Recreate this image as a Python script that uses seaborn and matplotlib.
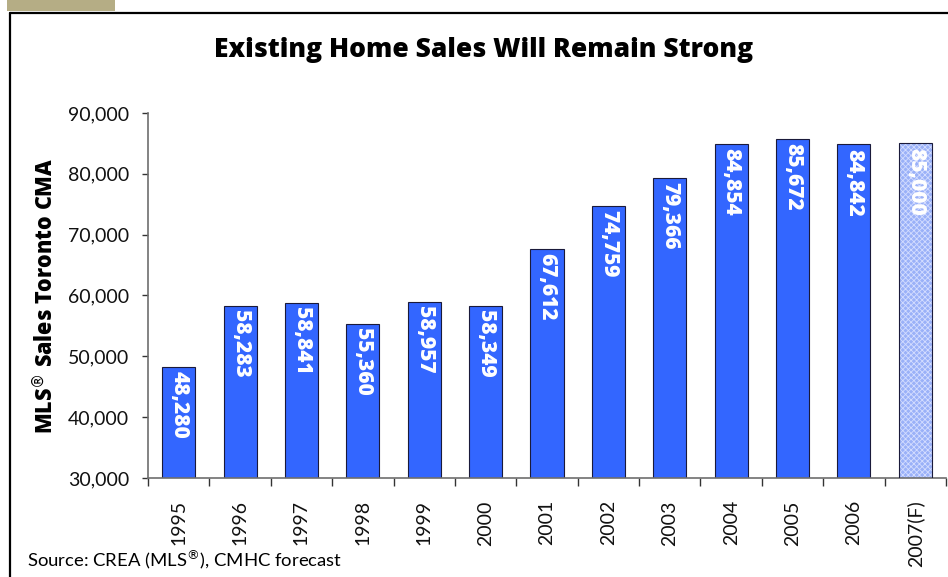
import matplotlib
matplotlib.use("Agg")
import matplotlib.pyplot as plt
import seaborn as sns
import pandas as pd
from matplotlib.patches import Rectangle
from matplotlib.lines import Line2D
from matplotlib.ticker import FuncFormatter, FixedLocator

# Toronto CMA MLS sales by year
years = ["1995", "1996", "1997", "1998", "1999", "2000", "2001",
         "2002", "2003", "2004", "2005", "2006", "2007(F)"]
sales = [48280, 58283, 58841, 55360, 58957, 58349, 67612,
         74759, 79366, 84854, 85672, 84842, 85000]
y_ticks = [30000, 40000, 50000, 60000, 70000, 80000, 90000]

sns.set_theme(style="white")
plt.rcParams["font.family"] = ["Lato", "DejaVu Sans"]
plt.rcParams["mathtext.fontset"] = "dejavusans"
plt.rcParams["hatch.linewidth"] = 0.6

BOLD = ["Open Sans", "DejaVu Sans"]
EDGE = "#1a1a3a"

df = pd.DataFrame({"year": years, "sales": sales})

fig = plt.figure(figsize=(9.48, 5.77), dpi=100)
ax = fig.add_axes([148 / 948, 1 - 478 / 577, (946 - 148) / 948, (478 - 113) / 577])

sns.barplot(data=df, x="year", y="sales", color="#3366FF", saturation=1,
            width=0.54, edgecolor=EDGE, linewidth=0.8, ax=ax)

# forecast bar: light dotted fill with its own outline
last = ax.patches[-1]
last.set_facecolor("#9ab1f8")
last.set_hatch("xxxxxx")
last.set_edgecolor("#d4ddff")
last.set_linewidth(0)
ax.add_patch(Rectangle(last.get_xy(), last.get_width(), last.get_height(),
                       fill=False, edgecolor=EDGE, linewidth=0.8, zorder=3))

ax.set_ylim(30000, 90000)
ax.set_xlim(-0.5, len(years) - 0.5)
ax.yaxis.set_major_locator(FixedLocator(y_ticks))
ax.yaxis.set_major_formatter(FuncFormatter(lambda v, p: f"{int(v):,}"))

# value labels inside the bars
for i, v in enumerate(sales):
    ax.annotate(f"{v:,}", xy=(i, v), xytext=(0, -3), textcoords="offset points",
                rotation=270, ha="center", va="top", color="white",
                fontsize=15, fontweight="heavy", family=BOLD, zorder=4)

# axes styling
for s in ["top", "right"]:
    ax.spines[s].set_visible(False)
for s in ["left", "bottom"]:
    ax.spines[s].set_color("#6e6e6e")
    ax.spines[s].set_linewidth(1.2)

ax.set_xlabel("")
ax.set_ylabel("MLS$^{®}$ Sales Toronto CMA", fontsize=15.5, fontweight="heavy",
              family=BOLD, color="black", labelpad=7)
ax.tick_params(axis="y", direction="out", length=4.5, width=1, color="#333333",
               labelsize=14, labelcolor="#111111", left=True, pad=9)
ax.set_xticks(range(len(years)))
ax.set_xticklabels(years, rotation=90, va="top")
ax.tick_params(axis="x", which="major", length=0, labelsize=14,
               labelcolor="#111111", pad=16)
ax.set_xticks([i - 0.5 for i in range(len(years) + 1)], minor=True)
ax.tick_params(axis="x", which="minor", direction="out", length=6, width=1,
               color="#333333", bottom=True)

fig.text(484 / 948, 1 - 50 / 577, "Existing Home Sales Will Remain Strong",
         ha="center", va="center", fontsize=19, fontweight="heavy", family=BOLD,
         color="black")
fig.text(27 / 948, 1 - 560 / 577, "Source: CREA (MLS$^{®}$), CMHC forecast",
         ha="left", va="center", fontsize=13.3, color="black")

# slide frame and tab
fig.add_artist(Rectangle((7 / 948, 1 - 11 / 577), 108 / 948, 11 / 577,
                         transform=fig.transFigure, facecolor="#b5ad85",
                         edgecolor="none"))
fig.add_artist(Line2D([10 / 948, 10 / 948], [0, 1 - 13 / 577],
                      transform=fig.transFigure, color="black", linewidth=1.6))
fig.add_artist(Line2D([10 / 948, 1], [1 - 13 / 577, 1 - 13 / 577],
                      transform=fig.transFigure, color="black", linewidth=1.6))

fig.savefig("out.png", dpi=100)
